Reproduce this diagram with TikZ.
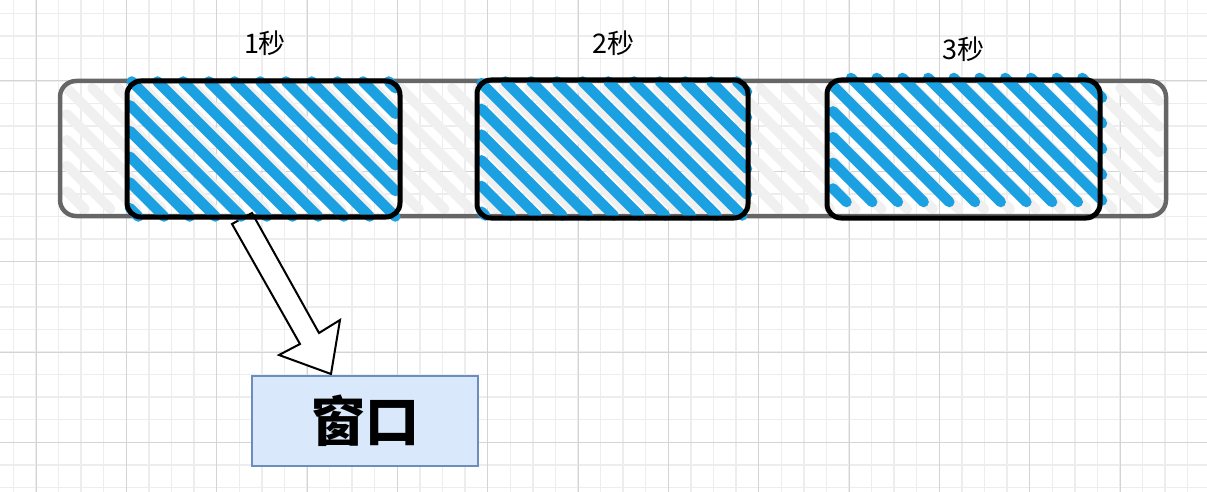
\documentclass[tikz,border=0pt]{standalone}
\usepackage{fontspec}
\newfontfamily\cjk{Noto Sans CJK SC}
\definecolor{gridminor}{HTML}{EDEDED}
\definecolor{gridmajor}{HTML}{D4D4D4}
\definecolor{barline}{HTML}{666666}
\definecolor{barhatch}{HTML}{F0F0F0}
\definecolor{bluehatch}{HTML}{1BA1E2}
\definecolor{winfill}{HTML}{DAE8FC}
\definecolor{winline}{HTML}{6C8EBF}
\newcommand{\hatchrect}[8]{%
  \foreach \k in {0,...,#7}{%
    \pgfmathsetmacro\cc{#5+#6*\k}%
    \pgfmathsetmacro\sx{max(#1,#2+\cc)}%
    \pgfmathsetmacro\ex{min(#3,#4+\cc)}%
    \pgfmathsetmacro\sy{\sx-(\cc)}%
    \pgfmathsetmacro\ey{\ex-(\cc)}%
    \ifdim\sx pt<\ex pt
      \draw[#8] (\sx,\sy) -- (\ex,\ey);
    \fi
  }}
\tikzset{
  barbox/.style={draw=barline, line width=4.5pt, rounded corners=16pt, inner sep=0pt},
  secbox/.style={draw=black, line width=5pt, rounded corners=14pt, inner sep=0pt},
  bluestripe/.style={draw=bluehatch, line width=10.5pt, line cap=round},
  graystripe/.style={draw=barhatch, line width=10pt, line cap=round},
  winbox/.style={draw=winline, fill=winfill, line width=2pt, inner sep=0pt},
  seclabel/.style={font=\cjk\fontsize{27}{27}\selectfont, inner sep=0pt},
  blockarrow/.style={draw=black, fill=white, line width=2pt, line join=miter}
}
\begin{document}
\begin{tikzpicture}[x=1pt, y=-1pt]
\useasboundingbox[fill=white] (0,0) rectangle (1207,492);
% grid
\foreach \i in {0,...,52} {\draw[gridminor, line width=1.4pt] ({13.417+22.583*\i},0) -- ++(0,492);}
\foreach \i in {0,...,21} {\draw[gridminor, line width=1.4pt] (0,{13.25+22.583*\i}) -- ++(1207,0);}
\foreach \i in {0,...,12} {\draw[gridmajor, line width=1pt] ({36+90.333*\i},0) -- ++(0,492);}
\foreach \i in {0,...,4} {\draw[gridmajor, line width=1pt] (0,{81+90.333*\i}) -- ++(1207,0);}
% bar hatching
\hatchrect{67}{88}{1159}{209}{-150}{25.7}{50}{graystripe}
\node[barbox, minimum width=1106pt, minimum height=135pt] (bar) at (613,148.5) {};
% block arrow to window
\draw[blockarrow] (232,224) -- (252,213) -- (319,333) -- (340,320) -- (331,374) -- (279,355) -- (300,344) -- cycle;
% section hatching
\hatchrect{130}{81.5}{395.5}{216.5}{-103.9}{25.7}{18}{bluestripe}
\hatchrect{481.5}{81.5}{747}{215.5}{244.1}{25.7}{18}{bluestripe}
\hatchrect{833}{78}{1102}{202}{618.8}{25.7}{18}{bluestripe}
% sections
\node[secbox, minimum width=273pt, minimum height=136pt] (s1) at (263.5,149) {};
\node[secbox, minimum width=271pt, minimum height=138pt] (s2) at (612.5,149) {};
\node[secbox, minimum width=273pt, minimum height=138pt] (s3) at (963.5,149) {};
% labels
\node[seclabel] (l1) at (265,43.5) {1秒};
\node[seclabel] (l2) at (613,43) {2秒};
\node[seclabel] (l3) at (963,49) {3秒};
% window
\node[winbox, minimum width=226pt, minimum height=90.5pt, font=\cjk\bfseries\fontsize{54}{54}\selectfont] (win) at (365,421) {窗口};
\end{tikzpicture}
\end{document}
